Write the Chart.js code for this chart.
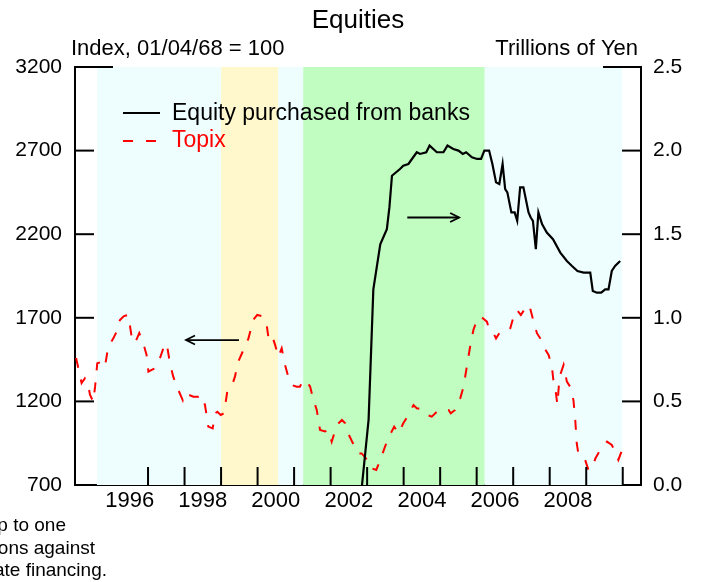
<!DOCTYPE html>
<html>
<head>
<meta charset="utf-8">
<script src="https://cdn.jsdelivr.net/npm/chart.js@4/dist/chart.umd.min.js"></script>
<style>
  body { margin: 0; background: #fff; }
  #wrap { width: 708px; height: 582px; }
</style>
</head>
<body>
<div id="wrap"><canvas id="equities" width="708" height="582"></canvas></div>
<script>
// Topix, monthly, index (left axis)
const TOPIX_DATES = [
  1995.03, 1995.09, 1995.18, 1995.27, 1995.36, 1995.41, 1995.50, 1995.55, 1995.61, 1995.73, 1995.82, 1995.91,
  1996.05, 1996.14, 1996.23, 1996.34, 1996.46, 1996.55, 1996.64, 1996.76, 1996.87, 1996.96,
  1997.01, 1997.10, 1997.19, 1997.31, 1997.42, 1997.51, 1997.60, 1997.69, 1997.83, 1997.95, 1997.99,
  1998.13, 1998.24, 1998.38, 1998.47, 1998.56, 1998.65, 1998.77, 1998.84, 1998.90, 1998.99,
  1999.08, 1999.17, 1999.29, 1999.38, 1999.47, 1999.61, 1999.75, 1999.88, 1999.99,
  2000.12, 2000.25, 2000.30, 2000.39, 2000.48, 2000.57, 2000.66, 2000.75, 2000.84, 2000.94,
  2001.07, 2001.16, 2001.25, 2001.35, 2001.44, 2001.53, 2001.62, 2001.71, 2001.85, 2001.94,
  2002.03, 2002.17, 2002.31, 2002.40, 2002.48, 2002.61, 2002.72, 2002.76, 2002.85, 2002.97,
  2003.04, 2003.13, 2003.25, 2003.36, 2003.49, 2003.58, 2003.74, 2003.86, 2003.99,
  2004.13, 2004.27, 2004.36, 2004.50, 2004.64, 2004.77, 2004.91,
  2005.05, 2005.23, 2005.29, 2005.41, 2005.55, 2005.64, 2005.73, 2005.82, 2005.91, 2005.99,
  2006.10, 2006.17, 2006.28, 2006.35, 2006.46, 2006.53, 2006.62, 2006.73, 2006.84, 2006.92,
  2007.01, 2007.10, 2007.21, 2007.33, 2007.44, 2007.56, 2007.65, 2007.79, 2007.88, 2007.97,
  2008.06, 2008.10, 2008.16, 2008.21, 2008.27, 2008.38, 2008.47, 2008.56, 2008.65, 2008.70, 2008.74, 2008.79, 2008.88, 2008.97,
  2009.06, 2009.16, 2009.25, 2009.38, 2009.57, 2009.70, 2009.79, 2009.88, 2009.98, 2010.04
]
const TOPIX_VALUES = [
  1460, 1400, 1310, 1338, 1300, 1240, 1198, 1288, 1428, 1437, 1408, 1527,
  1577, 1617, 1687, 1710, 1717, 1588, 1548, 1608, 1548, 1478,
  1378, 1388, 1398, 1448, 1518, 1548, 1428, 1348, 1268, 1208, 1248,
  1238, 1228, 1228, 1238, 1178, 1049, 1039, 1129, 1138, 1119,
  1129, 1258, 1288, 1348, 1437, 1507, 1577, 1687, 1717,
  1710, 1657, 1577, 1597, 1538, 1467, 1518, 1420, 1348, 1298,
  1288, 1288, 1328, 1318, 1288, 1208, 1149, 1029, 1020, 1029,
  959, 1059, 1089, 1069, 1009, 950, 920, 889, 889, 859,
  809, 799, 790, 850, 929, 979, 1049, 1009, 1069,
  1119, 1178, 1159, 1153, 1119, 1109, 1138,
  1149, 1149, 1129, 1149, 1218, 1288, 1408, 1527, 1627, 1677,
  1667, 1697, 1677, 1627, 1608, 1577, 1608, 1617, 1617, 1637,
  1707, 1747, 1717, 1757, 1777, 1677, 1608, 1560, 1510, 1478,
  1408, 1328, 1268, 1180, 1348, 1418, 1318, 1288, 1208, 1089, 950, 879, 869, 850,
  790, 799, 859, 909, 959, 939, 899, 850, 909, 959
]

// Equity purchased from banks, trillions of yen (right axis)
const BANK_DATES = [
  2002.86, 2003.04, 2003.17, 2003.36, 2003.54, 2003.61, 2003.68, 2003.90, 2003.99,
  2004.13, 2004.36, 2004.45, 2004.62, 2004.71, 2004.91,
  2005.09, 2005.20, 2005.36, 2005.50, 2005.62, 2005.71, 2005.87,
  2006.01, 2006.12, 2006.21, 2006.34, 2006.43, 2006.53, 2006.62, 2006.71, 2006.78, 2006.84, 2006.95,
  2007.04, 2007.11, 2007.19, 2007.28, 2007.42, 2007.48, 2007.54, 2007.62, 2007.69, 2007.79, 2007.92,
  2008.09, 2008.29, 2008.47, 2008.61, 2008.76, 2008.93,
  2009.11, 2009.18, 2009.29, 2009.41, 2009.52, 2009.61, 2009.70, 2009.79, 2009.93
]
const BANK_VALUES = [
  0.00, 0.39, 1.17, 1.44, 1.53, 1.66, 1.85, 1.89, 1.91,
  1.92, 1.99, 1.98, 1.99, 2.03, 1.99,
  1.99, 2.03, 2.01, 2.00, 1.98, 1.99, 1.96,
  1.95, 1.95, 2.00, 2.00, 1.92, 1.81, 1.80, 1.92, 1.77, 1.75, 1.63,
  1.63, 1.58, 1.78, 1.78, 1.63, 1.60, 1.58, 1.41, 1.63, 1.56, 1.51,
  1.47, 1.39, 1.34, 1.31, 1.28, 1.27,
  1.27, 1.16, 1.15, 1.15, 1.17, 1.17, 1.28, 1.31, 1.34
]

const LABEL_YEARS = [1996, 1998, 2000, 2002, 2004, 2006, 2008]
const TICK_YEARS = [1997, 1998, 1999, 2000, 2001, 2002, 2003, 2004, 2005, 2006, 2007, 2008, 2009, 2010]
const LEFT_TICKS = [700, 1200, 1700, 2200, 2700, 3200]
const RIGHT_TICKS = [0, 0.5, 1.0, 1.5, 2.0, 2.5]

// policy periods shaded behind the lines
const BAND_STARTS = [1995.6, 1999.0, 2000.56, 2001.25, 2006.22]
const BAND_ENDS = [1999.0, 2000.56, 2001.25, 2006.22, 2009.98]
const BAND_COLORS = ['#EEFEFF', '#FFF8CC', '#EEFEFF', '#C1FCC1', '#EEFEFF']

const FONT = '"Liberation Sans", Arial, Helvetica, sans-serif'

function points(xs, ys) {
  return xs.map((x, i) => ({ x: x, y: ys[i] }))
}

function line(ctx, x1, y1, x2, y2) {
  ctx.beginPath()
  ctx.moveTo(x1, y1)
  ctx.lineTo(x2, y2)
  ctx.stroke()
}

function arrow(ctx, x1, x2, y) {
  const dir = x2 > x1 ? 1 : -1
  line(ctx, x1, y, x2, y)
  ctx.beginPath()
  ctx.moveTo(x2 - dir * 9, y - 4.5)
  ctx.lineTo(x2, y)
  ctx.lineTo(x2 - dir * 9, y + 4.5)
  ctx.stroke()
}

const framePlugin = {
  id: 'frame',
  beforeDatasetsDraw(chart) {
    const { ctx, chartArea: a, scales } = chart
    ctx.save()
    BAND_STARTS.forEach((s, i) => {
      const x1 = scales.x.getPixelForValue(s)
      const x2 = scales.x.getPixelForValue(BAND_ENDS[i])
      ctx.fillStyle = BAND_COLORS[i]
      ctx.fillRect(x1, a.top, x2 - x1, a.bottom - a.top)
    })
    ctx.restore()
  },
  afterDraw(chart) {
    const { ctx, chartArea: a, scales } = chart
    ctx.save()
    ctx.strokeStyle = '#000'
    ctx.lineWidth = 2

    // inward tick marks
    LEFT_TICKS.forEach(v => {
      const y = scales.y.getPixelForValue(v)
      line(ctx, a.left, y, a.left + (v === 3200 ? 38 : 19), y)
    })
    RIGHT_TICKS.forEach(v => {
      const y = scales.yR.getPixelForValue(v)
      line(ctx, a.right, y, a.right - (v === 2.5 ? 38 : 19), y)
    })
    TICK_YEARS.forEach(yr => {
      const x = scales.x.getPixelForValue(yr)
      line(ctx, x, a.bottom, x, a.bottom - 18)
    })

    // arrows pointing to each series' axis
    ctx.lineWidth = 1.8
    const yl = scales.y.getPixelForValue(1567)
    arrow(ctx, scales.x.getPixelForValue(1999.49), scales.x.getPixelForValue(1998.04), yl)
    const yr = scales.yR.getPixelForValue(1.6)
    arrow(ctx, scales.x.getPixelForValue(2004.1), scales.x.getPixelForValue(2005.52), yr)

    // legend
    ctx.lineWidth = 2
    line(ctx, 123, 113, 160, 113)
    ctx.strokeStyle = '#FF0000'
    ctx.setLineDash([10, 13])
    line(ctx, 123, 141, 157, 141)
    ctx.setLineDash([])

    ctx.textBaseline = 'alphabetic'
    ctx.font = '23px ' + FONT
    ctx.fillStyle = '#000'
    ctx.textAlign = 'left'
    ctx.fillText('Equity purchased from banks', 172, 120)
    ctx.fillStyle = '#FF0000'
    ctx.fillText('Topix', 172, 146.5)

    // title and units
    ctx.fillStyle = '#000'
    ctx.font = '26px ' + FONT
    ctx.textAlign = 'center'
    ctx.fillText('Equities', 358, 28)
    ctx.font = '22px ' + FONT
    ctx.textAlign = 'left'
    ctx.fillText('Index, 01/04/68 = 100', 71, 55)
    ctx.textAlign = 'right'
    ctx.fillText('Trillions of Yen', 638, 55)

    // footnote
    ctx.font = '19px ' + FONT
    ctx.fillText('p to one', 66, 531)
    ctx.fillText('ons against', 95, 553.5)
    ctx.fillText('ate financing.', 107, 576)
    ctx.restore()
  }
}

const equitiesConfig = {
  type: 'line',
  data: {
    datasets: [{
      label: 'Equity purchased from banks',
      data: points(BANK_DATES, BANK_VALUES),
      yAxisID: 'yR',
      borderColor: '#000',
      borderWidth: 2.2,
      pointRadius: 0,
      tension: 0
    }, {
      label: 'Topix',
      data: points(TOPIX_DATES, TOPIX_VALUES),
      yAxisID: 'y',
      borderColor: '#FF0000',
      borderWidth: 2,
      borderDash: [10, 12],
      pointRadius: 0,
      tension: 0
    }]
  },
  plugins: [framePlugin],
  options: {
    responsive: false,
    animation: false,
    devicePixelRatio: 1,
    layout: { padding: { top: 67, left: 0, right: 0, bottom: 0 } },
    plugins: {
      legend: { display: false },
      title: { display: false },
      tooltip: { enabled: false }
    },
    scales: {
      x: {
        type: 'linear',
        position: 'bottom',
        min: 1995,
        max: 2010.5,
        grid: { display: false, drawTicks: false },
        border: { display: true, color: '#000', width: 2 },
        afterBuildTicks: scale => {
          scale.ticks = LABEL_YEARS.map(y => ({ value: y + 0.5 }))
        },
        afterFit: scale => { scale.height = 97 },
        ticks: {
          autoSkip: false,
          maxRotation: 0,
          padding: 3,
          color: '#000',
          font: { family: FONT, size: 22 },
          callback: value => String(Math.floor(value))
        }
      },
      y: {
        position: 'left',
        min: 700,
        max: 3200,
        grid: { display: false, drawTicks: false },
        border: { display: true, color: '#000', width: 2 },
        afterFit: scale => { scale.width = 75 },
        ticks: {
          stepSize: 500,
          padding: 13,
          color: '#000',
          font: { family: FONT, size: 21 },
          callback: value => String(value)
        }
      },
      yR: {
        position: 'right',
        min: 0,
        max: 2.5,
        grid: { display: false, drawTicks: false },
        border: { display: true, color: '#000', width: 2 },
        afterFit: scale => { scale.width = 67 },
        ticks: {
          stepSize: 0.5,
          padding: 12,
          color: '#000',
          font: { family: FONT, size: 21 },
          callback: value => value.toFixed(1)
        }
      }
    }
  }
}

const equitiesChart = new Chart(document.getElementById('equities'), equitiesConfig)
</script>
</body>
</html>
